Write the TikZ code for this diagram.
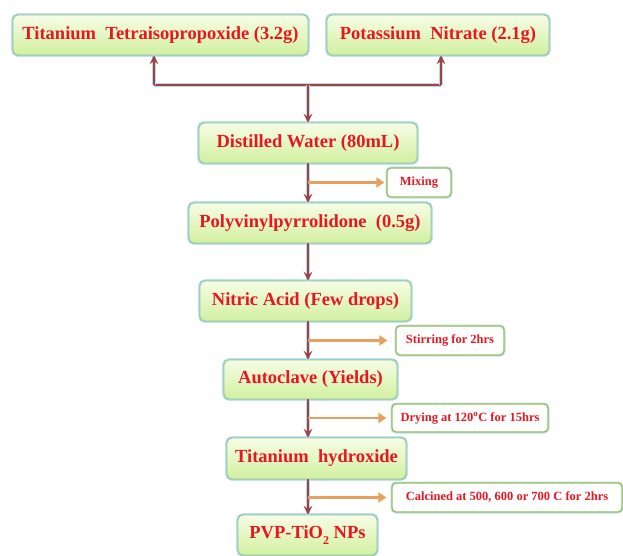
\documentclass[tikz,border=0pt]{standalone}
\usepackage{fontspec}
\setmainfont{Liberation Serif}
\usetikzlibrary{arrows.meta,calc}
\definecolor{txtred}{RGB}{232,22,32}
\definecolor{glowblue}{RGB}{160,212,230}
\definecolor{edgegreen}{RGB}{150,200,140}
\definecolor{topgreen}{RGB}{246,253,230}
\definecolor{botgreen}{RGB}{210,240,160}
\definecolor{smalledge}{RGB}{150,190,90}
\definecolor{arrred}{RGB}{165,65,65}
\definecolor{arrorange}{RGB}{232,160,96}
\tikzset{
  mainbox/.style={rounded corners=5pt, top color=topgreen, bottom color=botgreen,
    preaction={draw=glowblue, line width=3.4pt},
    draw=edgegreen, line width=0.8pt, inner sep=0pt,
    font=\fontsize{18.5}{20}\selectfont\bfseries, text=txtred},
  smallbox/.style={rounded corners=4pt, fill=white,
    preaction={draw=glowblue!70, line width=3pt},
    draw=smalledge, line width=1.3pt, inner sep=0pt,
    font=\fontsize{12.5}{14}\selectfont\bfseries, text=txtred},
  mainarrow/.style={draw=arrred, line width=1.6pt,
    preaction={-, draw=glowblue!80, line width=3.4pt},
    -{Stealth[length=9pt,width=9pt,inset=3.5pt]}},
  mainline/.style={draw=arrred, line width=1.6pt,
    preaction={draw=glowblue!80, line width=3.4pt}},
  sidearrow/.style={draw=arrorange, line width=2.6pt,
    -{Triangle[length=8pt,width=10pt]}}
}
\begin{document}
\begin{tikzpicture}[x=1pt,y=-1pt]
\useasboundingbox (0,0) rectangle (623,556);
% boxes
\node[mainbox, minimum width=295pt, minimum height=40pt] (ttip) at (160.5,35) {Titanium\ \ Tetraisopropoxide (3.2g)};
\node[mainbox, minimum width=222pt, minimum height=40pt] (kno) at (438,35) {Potassium\ \ Nitrate (2.1g)};
\node[mainbox, minimum width=218pt, minimum height=40pt] (dw) at (308,143) {Distilled Water (80mL)};
\node[smallbox, minimum width=64pt, minimum height=29pt] (mix) at (419,182.5) {Mixing};
\node[mainbox, minimum width=242pt, minimum height=40pt] (pvp) at (310,223) {Polyvinylpyrrolidone\ \ (0.5g)};
\node[mainbox, minimum width=211pt, minimum height=40pt] (na) at (305.5,301) {Nitric Acid (Few drops)};
\node[smallbox, minimum width=108pt, minimum height=29pt] (stir) at (450,340.5) {Stirring for 2hrs};
\node[mainbox, minimum width=173pt, minimum height=39pt] (ac) at (310.5,379.5) {Autoclave (Yields)};
\node[smallbox, minimum width=156pt, minimum height=28pt] (dry) at (470,418) {Drying at 120\textsuperscript{o}C for 15hrs};
\node[mainbox, minimum width=179pt, minimum height=41pt] (tio) at (316.5,458.5) {Titanium\ \ hydroxide};
\node[smallbox, minimum width=230pt, minimum height=29pt] (cal) at (507,497.5) {Calcined at 500, 600 or 700 C for 2hrs};
\node[mainbox, minimum width=139pt, minimum height=40pt] (nps) at (307.5,535) {PVP-TiO\raisebox{-0.3em}{\fontsize{12}{12}\selectfont 2} NPs};
% spine and junction
\coordinate (sp) at (308,0);
\coordinate (j) at (308,85);
\coordinate (jl) at (154,85);
\coordinate (jr) at (441,85);
% top branch
\draw[mainline] (jl) -- (jr);
\draw[mainarrow] (jl) -- (jl |- ttip.south);
\draw[mainarrow] (jr) -- (jr |- kno.south);
\draw[mainarrow] (j) -- (j |- dw.north);
% chain
\draw[mainarrow] (dw.south -| sp) -- (pvp.north -| sp);
\draw[mainarrow] (pvp.south -| sp) -- (na.north -| sp);
\draw[mainarrow] (na.south -| sp) -- (ac.north -| sp);
\draw[mainarrow] (ac.south -| sp) -- (tio.north -| sp);
\draw[mainarrow] (tio.south -| sp) -- (nps.north -| sp);
% side arrows
\draw[sidearrow] (mix.west -| sp) -- ([xshift=-2pt]mix.west);
\draw[sidearrow] (stir.west -| sp) -- ([xshift=-8pt]stir.west);
\draw[sidearrow] (dry.west -| sp) -- ([xshift=-5pt]dry.west);
\draw[sidearrow] (cal.west -| sp) -- ([xshift=-5pt]cal.west);
\end{tikzpicture}
\end{document}
